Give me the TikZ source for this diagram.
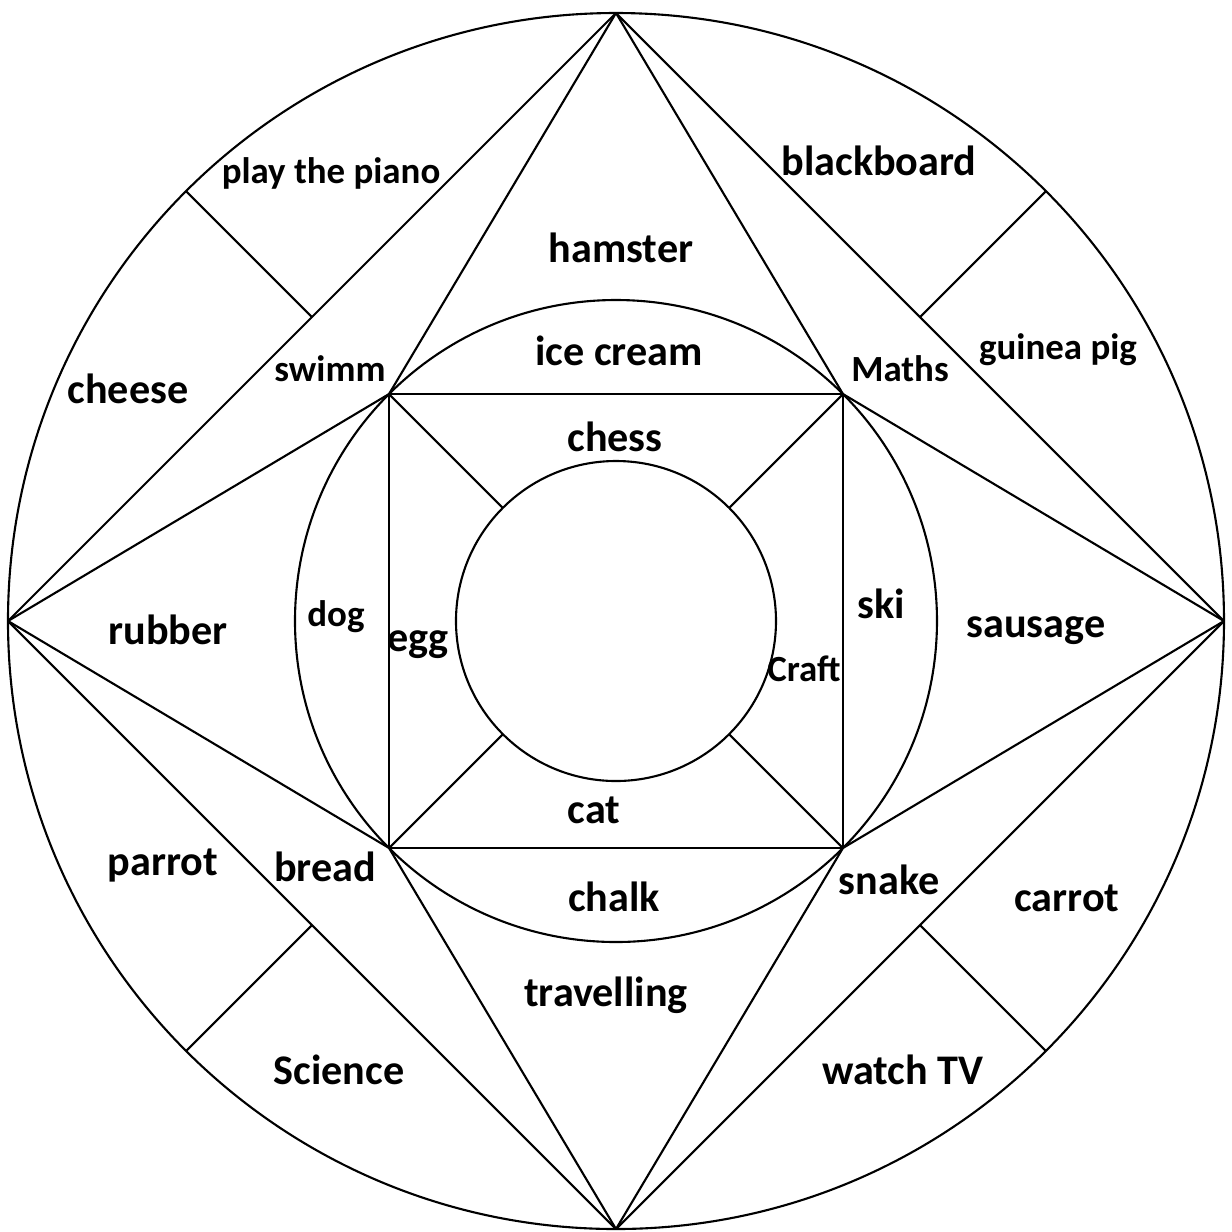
\documentclass[tikz,border=0pt]{standalone}
\usepackage{fontspec}
\setmainfont{Carlito}
\begin{document}
\begin{tikzpicture}[line width=0.6pt, line join=round,
  big/.style={font=\fontsize{12}{14}\selectfont\bfseries, inner sep=0pt},
  small/.style={font=\fontsize{10.5}{12}\selectfont\bfseries, inner sep=0pt}]
\useasboundingbox (-6.16,-6.10) rectangle (6.16,6.21);
\def\Rout{6.08}
\def\Rmid{3.21}
\def\Rin{1.60}
\def\Rhalf{4.299}
% diamond vertices
\coordinate (T) at (90:\Rout);
\coordinate (L) at (180:\Rout);
\coordinate (B) at (270:\Rout);
\coordinate (E) at (0:\Rout);
% square corners
\coordinate (q1) at (45:\Rmid);
\coordinate (q2) at (135:\Rmid);
\coordinate (q3) at (225:\Rmid);
\coordinate (q4) at (315:\Rmid);
% inner circle points
\coordinate (i1) at (45:\Rin);
\coordinate (i2) at (135:\Rin);
\coordinate (i3) at (225:\Rin);
\coordinate (i4) at (315:\Rin);
% diamond edge midpoints and outer circle points
\coordinate (m1) at (45:\Rhalf);
\coordinate (m2) at (135:\Rhalf);
\coordinate (m3) at (225:\Rhalf);
\coordinate (m4) at (315:\Rhalf);
\coordinate (o1) at (45:\Rout);
\coordinate (o2) at (135:\Rout);
\coordinate (o3) at (225:\Rout);
\coordinate (o4) at (315:\Rout);
% circles
\draw (0,0) circle (\Rout);
\draw (0,0) circle (\Rmid);
\draw (0,0) circle (\Rin);
% diamond
\draw (T) -- (E) -- (B) -- (L) -- cycle;
% square
\draw (q1) -- (q2) -- (q3) -- (q4) -- cycle;
% star spikes
\draw (T) -- (q1) (T) -- (q2);
\draw (L) -- (q2) (L) -- (q3);
\draw (B) -- (q3) (B) -- (q4);
\draw (E) -- (q1) (E) -- (q4);
% square corners to inner circle
\draw (q1) -- (i1) (q2) -- (i2) (q3) -- (i3) (q4) -- (i4);
% outer ring separators
\draw (m1) -- (o1) (m2) -- (o2) (m3) -- (o3) (m4) -- (o4);
% labels
\node[small] (piano) at (-2.85,4.48) {play the piano};
\node[big] (blackboard) at (2.63,4.60) {blackboard};
\node[big] (hamster) at (0.05,3.73) {hamster};
\node[big] (cheese) at (-4.88,2.32) {cheese};
\node[small] (swimm) at (-2.86,2.52) {swimm};
\node[big] (icecream) at (0.03,2.70) {ice cream};
\node[small] (maths) at (2.84,2.52) {Maths};
\node[small] (guinea) at (4.42,2.71) {guinea pig};
\node[big] (chess) at (-0.01,1.84) {chess};
\node[big] (rubber) at (-4.48,-0.09) {rubber};
\node[small] (dog) at (-2.80,0.04) {dog};
\node[big] (egg) at (-1.98,-0.24) {egg};
\node[big] (ski) at (2.65,0.17) {ski};
\node[big] (sausage) at (4.20,-0.10) {sausage};
\node[small] (craft) at (1.88,-0.48) {Craft};
\node[big] (cat) at (-0.22,-1.89) {cat};
\node[big] (parrot) at (-4.53,-2.44) {parrot};
\node[big] (bread) at (-2.91,-2.46) {bread};
\node[big] (chalk) at (-0.02,-2.76) {chalk};
\node[big] (snake) at (2.73,-2.59) {snake};
\node[big] (carrot) at (4.51,-2.77) {carrot};
\node[big] (travelling) at (-0.10,-3.74) {travelling};
\node[big] (science) at (-2.77,-4.49) {Science};
\node[big] (watchtv) at (2.87,-4.49) {watch TV};
\end{tikzpicture}
\end{document}
